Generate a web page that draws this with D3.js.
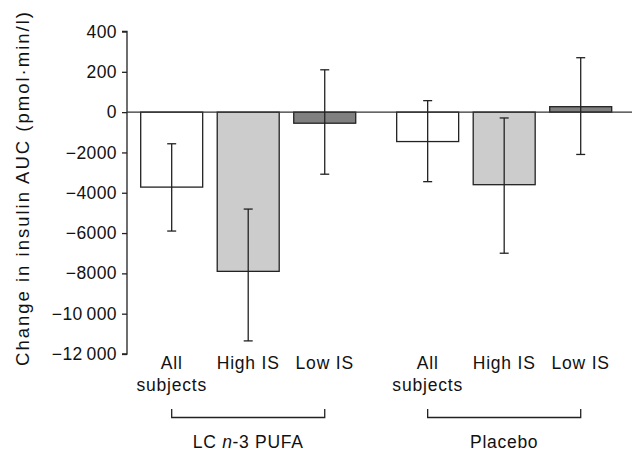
<!DOCTYPE html>
<html>
<head>
<meta charset="utf-8">
<script src="https://cdn.jsdelivr.net/npm/d3@7"></script>
<style>
  body { margin: 0; background: #fff; }
  text { font-family: "Liberation Sans", Arial, sans-serif; fill: #111; }
</style>
</head>
<body>
<div id="chart"></div>
<script>
// data
var groups = ['LC n-3 PUFA', 'Placebo'];
var subgroups = ['All subjects', 'High IS', 'Low IS'];
var fills = ['#ffffff', '#cccccc', '#808080'];
var lcMeans = [-3720, -7900, -550];
var lcLow = [-5900, -11350, -3080];
var lcHigh = [-1570, -4810, 2100];
var plMeans = [-1460, -3600, 270];
var plLow = [-3450, -7000, -2100];
var plHigh = [570, -290, 2700];
var yTicks = [4000, 2000, 0, -2000, -4000, -6000, -8000, -10000, -12000];
var yTickLabels = ['400', '200', '0', '\u22122000', '\u22124000', '\u22126000', '\u22128000', '\u221210\u2009000', '\u221212\u2009000'];

var width = 632, height = 451;
var svg = d3.select('#chart').append('svg')
  .attr('width', width)
  .attr('height', height);

// scales
var y = d3.scaleLinear().domain([-12000, 4000]).range([354, 31.5]);
var xGroup = d3.scaleBand().domain(groups).range([140.7, 611.7]).paddingInner(0.16);
var xSub = d3.scaleBand().domain(subgroups).range([0, xGroup.bandwidth()]).paddingInner(0.19);

var rows = [];
groups.forEach(function(g, gi){
  var m = gi === 0 ? lcMeans : plMeans;
  var lo = gi === 0 ? lcLow : plLow;
  var hi = gi === 0 ? lcHigh : plHigh;
  subgroups.forEach(function(s, si){
    rows.push({group: g, sub: s, mean: m[si], low: lo[si], high: hi[si], fill: fills[si]});
  });
});

// y axis
var leftAxis = d3.axisLeft(y)
  .tickValues(yTicks)
  .tickSize(5)
  .tickPadding(5)
  .tickFormat(function(d, i){ return yTickLabels[i]; });
var yAxisG = svg.append('g')
  .attr('transform', 'translate(127,0)')
  .call(leftAxis);
yAxisG.select('.domain').attr('d', 'M-5,' + y(4000) + 'H0V' + y(-12000) + 'H-5')
  .attr('stroke', '#222').attr('stroke-width', 1.3);
yAxisG.selectAll('.tick line').attr('stroke', '#222').attr('stroke-width', 1.3);
yAxisG.selectAll('.tick text')
  .style('font-family', '"Liberation Sans", Arial, sans-serif')
  .style('letter-spacing', '0.4px')
  .attr('font-size', 17.5).attr('fill', '#111');

// y title
svg.append('text')
  .attr('transform', 'translate(29,188)rotate(-90)')
  .attr('text-anchor', 'middle')
  .attr('font-size', 18.5)
  .style('letter-spacing', '2px')
  .text('Change in insulin AUC (pmol\u00b7min/l)');

// bars
var bx = function(d){ return xGroup(d.group) + xSub(d.sub); };
svg.selectAll('rect.bar').data(rows).enter().append('rect')
  .attr('class', 'bar')
  .attr('x', bx)
  .attr('width', xSub.bandwidth())
  .attr('y', function(d){ return y(Math.max(0, d.mean)); })
  .attr('height', function(d){ return Math.abs(y(d.mean) - y(0)); })
  .attr('fill', function(d){ return d.fill; })
  .attr('stroke', '#222')
  .attr('stroke-width', 1.3);

// zero line
svg.append('line')
  .attr('x1', 127).attr('x2', 632)
  .attr('y1', y(0)).attr('y2', y(0))
  .attr('stroke', '#333').attr('stroke-width', 1.3);

// error bars
var err = svg.selectAll('g.err').data(rows).enter().append('g')
  .attr('class', 'err')
  .attr('transform', function(d){ return 'translate(' + (bx(d) + xSub.bandwidth() / 2) + ',0)'; });
err.append('line')
  .attr('y1', function(d){ return y(d.low); })
  .attr('y2', function(d){ return y(d.high); })
  .attr('stroke', '#222').attr('stroke-width', 1.3);
err.selectAll('line.cap').data(function(d){ return [d.low, d.high]; }).enter().append('line')
  .attr('class', 'cap')
  .attr('x1', -4.5).attr('x2', 4.5)
  .attr('y1', function(v){ return y(v); })
  .attr('y2', function(v){ return y(v); })
  .attr('stroke', '#222').attr('stroke-width', 1.3);

// category labels
var cat = svg.selectAll('text.cat').data(rows).enter().append('text')
  .attr('class', 'cat')
  .attr('text-anchor', 'middle')
  .attr('font-size', 17.5)
  .style('letter-spacing', '0.8px')
  .attr('x', function(d){ return bx(d) + xSub.bandwidth() / 2; })
  .attr('y', 369);
cat.each(function(d){
  var t = d3.select(this);
  if (d.sub === 'All subjects') {
    t.append('tspan').attr('x', t.attr('x')).attr('y', 369).text('All');
    t.append('tspan').attr('x', t.attr('x')).attr('y', 391).text('subjects');
  } else {
    t.text(d.sub);
  }
});

// group brackets
groups.forEach(function(g){
  var x0 = xGroup(g) + xSub(subgroups[0]) + xSub.bandwidth() / 2;
  var x1 = xGroup(g) + xSub(subgroups[2]) + xSub.bandwidth() / 2;
  svg.append('path')
    .attr('d', 'M' + x0 + ',409V417.5H' + x1 + 'V409')
    .attr('fill', 'none')
    .attr('stroke', '#222').attr('stroke-width', 1.3);
  var t = svg.append('text')
    .attr('x', (x0 + x1) / 2)
    .attr('y', 448)
    .attr('text-anchor', 'middle')
    .attr('font-size', 17.5)
    .style('letter-spacing', '0.7px');
  if (g === 'LC n-3 PUFA') {
    t.append('tspan').text('LC ');
    t.append('tspan').attr('font-style', 'italic').text('n');
    t.append('tspan').text('-3 PUFA');
  } else {
    t.text(g);
  }
});
</script>
</body>
</html>
